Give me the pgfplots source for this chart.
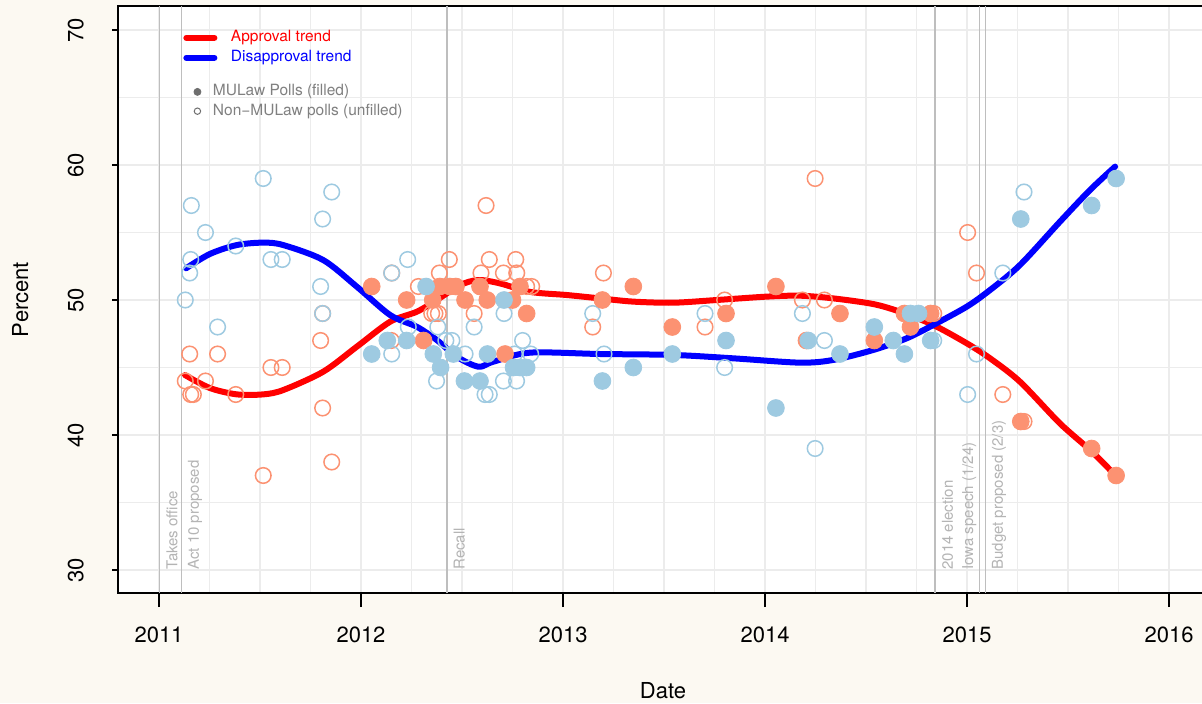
\documentclass[border=0pt]{standalone}
\usepackage{fontspec}
\setmainfont{TeX Gyre Heros}
\usepackage{pgfplots}
\pgfplotsset{compat=1.18}
\definecolor{bgc}{RGB}{252,249,242}
\definecolor{salmon}{RGB}{252,146,114}
\definecolor{lblue}{RGB}{158,202,225}
\definecolor{gridc}{RGB}{236,236,236}
\definecolor{evc}{RGB}{190,190,190}
\definecolor{evt}{RGB}{180,180,180}
\definecolor{legt}{RGB}{128,128,128}
\definecolor{legm}{RGB}{110,110,110}
\begin{document}
\begin{tikzpicture}
\fill[bgc] (-59pt,-55pt) rectangle (542pt,296.5pt);
\begin{axis}[
  at={(0,0)}, anchor=south west,
  scale only axis, width=545pt, height=293.5pt,
  xmin=2010.797, xmax=2016.193, ymin=28.296, ymax=71.778,
  axis background/.style={fill=white},
  xtick={2011,2012,2013,2014,2015,2016},
  ytick={30,40,50,60,70},
  minor x tick num=3, minor y tick num=1,
  grid=both,
  major grid style={gridc, line width=0.6pt},
  minor grid style={gridc, line width=0.6pt},
  tick pos=left,
  tick align=outside, major tick length=3pt, minor tick length=0pt,
  xtick style={/pgfplots/major tick length=7pt},
  tick style={black, line width=0.7pt},
  axis line style={line width=0.8pt},
  /pgf/number format/1000 sep={},
  /pgf/number format/assume math mode=true,
  tick label style={font=\fontsize{11}{13}\selectfont},
  xticklabel style={anchor=north, inner sep=0pt, yshift=-13.5pt},
  yticklabel style={xshift=-14pt, rotate=90, anchor=south, inner sep=0pt},
  xlabel={Date}, ylabel={Percent},
  label style={font=\fontsize{11}{13}\selectfont},
  xlabel style={at={(axis description cs:0.5,0)}, anchor=north, inner sep=0pt, yshift=-44.5pt},
  ylabel style={at={(axis description cs:-0.0817,0.5)}, anchor=south, inner sep=0pt},
  legend style={draw=none, fill=none, at={(0.0596,0.960)}, anchor=north west, inner sep=0pt,
    column sep=6.8pt, row sep=2pt,
    nodes={inner sep=0pt, text height=6pt, text depth=2pt, font=\fontsize{7.75}{9}\selectfont}},
  legend cell align=left,
  legend image code/.code={\draw[#1, line width=3pt, line cap=round] (0pt,0pt) -- (14pt,0pt);},
]
% event lines
\addplot[evc, line width=0.7pt, forget plot] coordinates {(2011.003,28.296) (2011.003,71.778)};
\addplot[evc, line width=0.7pt, forget plot] coordinates {(2011.110,28.296) (2011.110,71.778)};
\addplot[evc, line width=0.7pt, forget plot] coordinates {(2012.425,28.296) (2012.425,71.778)};
\addplot[evc, line width=0.7pt, forget plot] coordinates {(2014.842,28.296) (2014.842,71.778)};
\addplot[evc, line width=0.7pt, forget plot] coordinates {(2015.063,28.296) (2015.063,71.778)};
\addplot[evc, line width=0.7pt, forget plot] coordinates {(2015.090,28.296) (2015.090,71.778)};
\begin{scope}[every node/.style={inner sep=0pt, text=evt, font=\fontsize{7.5}{9}\selectfont}]
\node[xshift=3.2pt, rotate=90, anchor=north west] at (axis cs:2011.003,30) {Takes office};
\node[xshift=3.2pt, rotate=90, anchor=north west] at (axis cs:2011.110,30) {Act 10 proposed};
\node[xshift=3.2pt, rotate=90, anchor=north west] at (axis cs:2012.425,30) {Recall};
\node[xshift=3.2pt, rotate=90, anchor=north west] at (axis cs:2014.842,30) {2014 election};
\node[xshift=-1.5pt, rotate=90, anchor=south west] at (axis cs:2015.063,30) {Iowa speech (1/24)};
\node[xshift=3.2pt, rotate=90, anchor=north west] at (axis cs:2015.090,30) {Budget proposed (2/3)};
\end{scope}
% approval, non-MULaw (open)
\addplot[only marks, mark=o, mark size=3.9pt, salmon, mark options={line width=0.75pt}, forget plot] coordinates {
(2011.13,44) (2011.152,46) (2011.157,43) (2011.17,43) (2011.23,44) (2011.29,46) (2011.38,43)
(2011.516,37) (2011.554,45) (2011.61,45) (2011.80,47) (2011.81,49) (2011.81,42) (2011.855,38)
(2012.152,52) (2012.15,47) (2012.284,51) (2012.35,49) (2012.366,49) (2012.383,49) (2012.388,52)
(2012.437,53) (2012.56,49) (2012.594,52) (2012.619,57) (2012.635,53) (2012.705,52) (2012.766,53)
(2012.771,52) (2012.82,51) (2012.845,51)
(2013.147,48) (2013.2,52) (2013.703,48) (2013.80,50) (2014.185,50) (2014.248,59) (2014.294,50)
(2014.835,49) (2015.003,55) (2015.047,52) (2015.177,43) (2015.282,41)};
% disapproval, non-MULaw (open)
\addplot[only marks, mark=o, mark size=3.9pt, lblue, mark options={line width=0.75pt}, forget plot] coordinates {
(2011.13,50) (2011.152,52) (2011.157,53) (2011.16,57) (2011.23,55) (2011.29,48) (2011.38,54)
(2011.516,59) (2011.554,53) (2011.61,53) (2011.80,51) (2011.81,49) (2011.81,56) (2011.855,58)
(2012.152,52) (2012.152,46) (2012.231,53) (2012.234,48) (2012.374,44) (2012.38,48) (2012.42,47)
(2012.45,47) (2012.515,46) (2012.56,48) (2012.614,43) (2012.635,43) (2012.705,44) (2012.708,49)
(2012.77,44) (2012.76,46) (2012.80,47) (2012.84,46)
(2013.147,49) (2013.203,46) (2013.703,49) (2013.80,45) (2014.185,49) (2014.248,39) (2014.294,47)
(2014.835,47) (2015.003,43) (2015.047,46) (2015.177,52) (2015.282,58)};
% approval, MULaw (filled)
\addplot[only marks, mark=*, mark size=4.2pt, salmon, mark options={fill=salmon, draw=none}, forget plot] coordinates {
(2012.053,51) (2012.226,50) (2012.31,47) (2012.355,50) (2012.39,51) (2012.44,51) (2012.47,51)
(2012.515,50) (2012.589,51) (2012.625,50) (2012.713,46) (2012.75,50) (2012.787,51) (2012.82,49)
(2013.195,50) (2013.348,51) (2013.541,48) (2013.807,49) (2014.054,51) (2014.205,47) (2014.371,49)
(2014.541,47) (2014.69,49) (2014.72,48) (2014.82,49) (2015.266,41) (2015.617,39) (2015.738,37)};
% disapproval, MULaw (filled)
\addplot[only marks, mark=*, mark size=4.2pt, lblue, mark options={fill=lblue, draw=none}, forget plot] coordinates {
(2012.053,46) (2012.13,47) (2012.226,47) (2012.322,51) (2012.358,46) (2012.394,45) (2012.457,46)
(2012.512,44) (2012.589,44) (2012.626,46) (2012.708,50) (2012.755,45) (2012.787,45) (2012.82,45)
(2013.195,44) (2013.348,45) (2013.541,46) (2013.807,47) (2014.054,42) (2014.214,47) (2014.371,46)
(2014.541,48) (2014.635,47) (2014.69,46) (2014.72,49) (2014.76,49) (2014.82,47) (2015.266,56)
(2015.617,57) (2015.738,59)};
% trends
\addplot[red, line width=3pt, line cap=round, smooth, tension=0.5] coordinates {
(2011.129,44.44) (2011.252,43.48) (2011.385,43.01) (2011.516,43.01) (2011.615,43.33)
(2011.813,44.69) (2011.979,46.54) (2012.144,48.39) (2012.276,49.13) (2012.375,50.0)
(2012.490,51.1) (2012.581,51.48) (2012.688,51.23) (2012.837,50.6) (2013.018,50.37)
(2013.183,50.12) (2013.348,49.88) (2013.546,49.8) (2013.761,50.0) (2014.008,50.25)
(2014.173,50.32) (2014.338,50.12) (2014.536,49.70) (2014.668,49.13) (2014.833,48.15)
(2014.999,46.79) (2015.114,45.68) (2015.262,43.95) (2015.460,40.86) (2015.609,38.89)
(2015.733,37.04)};
\addlegendentry{\textcolor{red}{Approval trend}}
\addplot[blue, line width=3pt, line cap=round, smooth, tension=0.5] coordinates {
(2011.134,52.35) (2011.252,53.41) (2011.385,54.07) (2011.516,54.25) (2011.615,54.07)
(2011.813,52.96) (2011.979,50.99) (2012.144,48.89) (2012.276,48.02) (2012.375,47.04)
(2012.474,45.8) (2012.581,45.06) (2012.655,45.43) (2012.837,46.1) (2013.183,46.0)
(2013.546,45.93) (2013.843,45.68) (2014.173,45.36) (2014.338,45.56) (2014.536,46.3)
(2014.701,47.16) (2014.833,48.15) (2014.999,49.51) (2015.114,50.74) (2015.262,52.59)
(2015.460,55.8) (2015.609,58.15) (2015.733,59.88)};
\addlegendentry{\textcolor{blue}{Disapproval trend}}
\end{axis}
\begin{axis}[
  at={(0,0)}, anchor=south west,
  scale only axis, width=545pt, height=293.5pt,
  xmin=2010.797, xmax=2016.193, ymin=28.296, ymax=71.778,
  hide axis,
  legend style={draw=none, fill=none, at={(0.0693,0.868)}, anchor=north west, inner sep=0pt,
    column sep=6pt, row sep=1.65pt,
    nodes={inner sep=0pt, text height=6pt, text depth=2pt, text=legt, font=\fontsize{7.75}{9}\selectfont}},
  legend cell align=left,
  legend image code/.code={\draw[#1] plot coordinates {(0pt,0pt)};},
]
\addlegendimage{only marks, mark=*, mark size=1.75pt, legm, mark options={fill=legm, draw=none}}
\addlegendentry{MULaw Polls (filled)}
\addlegendimage{only marks, mark=o, mark size=1.6pt, legm, mark options={line width=0.5pt}}
\addlegendentry{Non−MULaw polls (unfilled)}
\end{axis}
\pgfresetboundingbox
\useasboundingbox (-59pt,-55pt) rectangle (542pt,296.5pt);
\end{tikzpicture}
\end{document}
